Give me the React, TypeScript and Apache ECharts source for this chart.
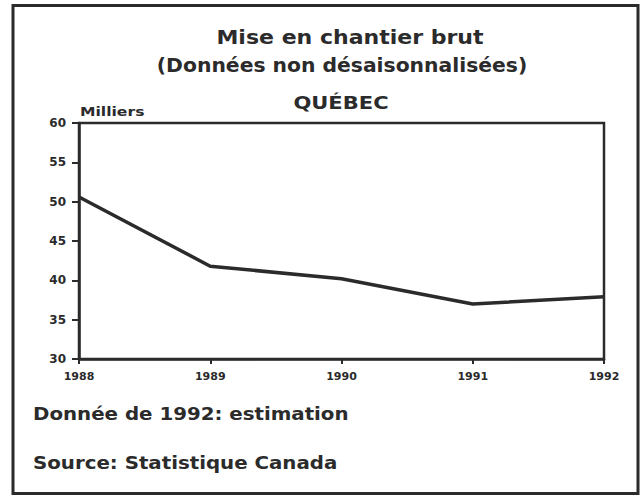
import React, { useEffect, useRef } from "react";
import * as echarts from "echarts";

const years = ["1988", "1989", "1990", "1991", "1992"];
const starts = [50.6, 41.8, 40.2, 37.0, 37.9];
const yTicks = [30, 35, 40, 45, 50, 55, 60];

const FONT = "'DejaVu Sans', 'Liberation Sans', Arial, sans-serif";
const INK = "#2b2b2b";

export default function App() {
  const ref = useRef<HTMLDivElement>(null);
  useEffect(() => {
    if (!ref.current) return;
    const chart = echarts.init(ref.current, undefined, { renderer: "svg" });
    chart.setOption({
      animation: false,
      backgroundColor: "#ffffff",
      grid: {
        left: 79,
        right: 36,
        top: 123,
        bottom: 137,
        show: true,
        borderColor: INK,
        borderWidth: 2.5,
      },
      xAxis: {
        type: "category",
        data: years,
        boundaryGap: false,
        axisLine: { lineStyle: { color: INK, width: 2.5 } },
        axisTick: { show: true, length: 5, lineStyle: { color: INK, width: 2 } },
        axisLabel: {
          color: INK,
          fontFamily: FONT,
          fontWeight: "bold",
          fontSize: 11,
          margin: 12,
        },
        splitLine: { show: false },
      },
      yAxis: {
        type: "value",
        min: yTicks[0],
        max: yTicks[yTicks.length - 1],
        interval: 5,
        axisLine: { show: true, lineStyle: { color: INK, width: 2.5 } },
        axisTick: { show: true, length: 7, lineStyle: { color: INK, width: 2 } },
        axisLabel: {
          color: INK,
          fontFamily: FONT,
          fontWeight: "bold",
          fontSize: 12,
          margin: 13,
        },
        splitLine: { show: false },
      },
      series: [
        {
          type: "line",
          data: starts,
          showSymbol: false,
          symbol: "none",
          lineStyle: { color: INK, width: 3.5 },
        },
      ],
      graphic: [
        {
          type: "rect",
          shape: { x: 13, y: 5.5, width: 625, height: 488 },
          style: { fill: "none", stroke: INK, lineWidth: 3 },
        },
        {
          type: "text",
          x: 350,
          y: 38,
          scaleX: 1.16,
          style: {
            text: "Mise en chantier brut",
            fill: INK,
            font: `bold 19px ${FONT}`,
            textAlign: "center",
            textVerticalAlign: "middle",
          },
        },
        {
          type: "text",
          x: 342,
          y: 66,
          scaleX: 1.07,
          style: {
            text: "(Données non désaisonnalisées)",
            fill: INK,
            font: `bold 19px ${FONT}`,
            textAlign: "center",
            textVerticalAlign: "middle",
          },
        },
        {
          type: "text",
          x: 341,
          y: 103,
          scaleX: 1.17,
          style: {
            text: "QUÉBEC",
            fill: INK,
            font: `bold 18px ${FONT}`,
            textAlign: "center",
            textVerticalAlign: "middle",
          },
        },
        {
          type: "text",
          x: 80,
          y: 111,
          scaleX: 1.2,
          style: {
            text: "Milliers",
            fill: INK,
            font: `bold 13px ${FONT}`,
            textAlign: "left",
            textVerticalAlign: "middle",
          },
        },
        {
          type: "text",
          x: 33,
          y: 413,
          scaleX: 1.1,
          style: {
            text: "Donnée de 1992: estimation",
            fill: INK,
            font: `bold 18px ${FONT}`,
            textAlign: "left",
            textVerticalAlign: "middle",
          },
        },
        {
          type: "text",
          x: 33,
          y: 462,
          scaleX: 1.1,
          style: {
            text: "Source: Statistique Canada",
            fill: INK,
            font: `bold 18px ${FONT}`,
            textAlign: "left",
            textVerticalAlign: "middle",
          },
        },
      ],
    });
    return () => chart.dispose();
  }, []);
  return (
    <div
      ref={ref}
      style={{ position: "fixed", left: 0, top: 0, width: 640, height: 496 }}
    />
  );
}
